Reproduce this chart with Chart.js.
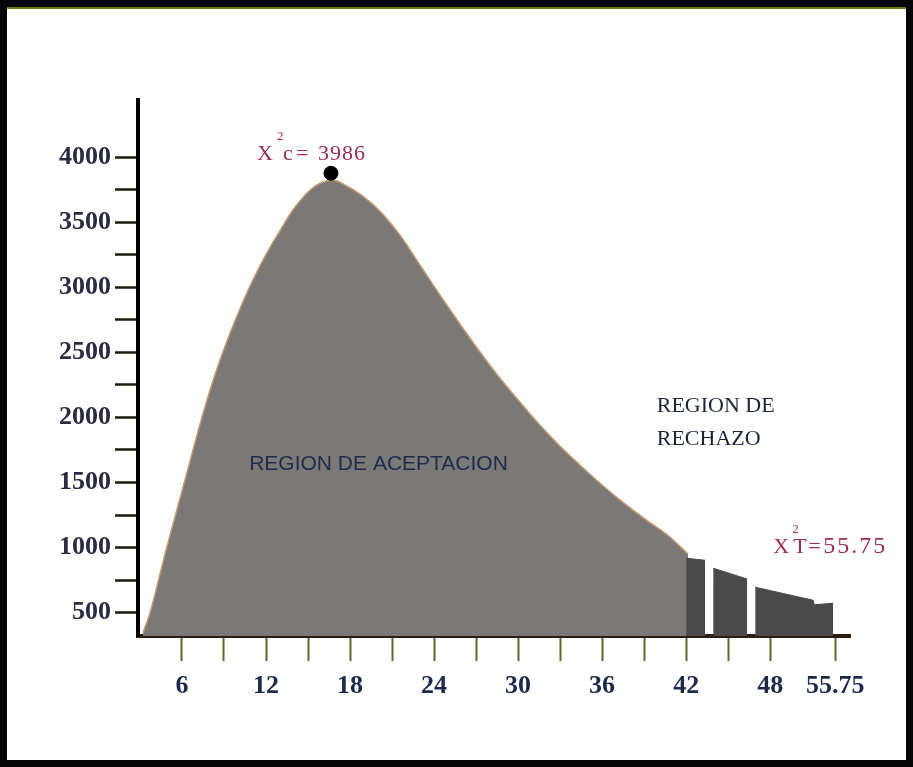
<!DOCTYPE html>
<html>
<head>
<meta charset="utf-8">
<script src="https://cdn.jsdelivr.net/npm/chart.js@4/dist/chart.umd.min.js"></script>
<style>
  html, body { margin: 0; padding: 0; background: #ffffff; }
  #wrap { width: 913px; height: 767px; position: relative; }
</style>
</head>
<body>
<div id="wrap"><canvas id="c" width="913" height="767"></canvas></div>
<script>
// ---- data ----
const acceptX = [3.21, 3.71, 4.86, 6.21, 7.29, 8.0, 8.71, 9.43, 10.14, 10.86, 11.57, 12.29, 13.0, 13.71, 14.43, 15.14, 15.86, 16.79, 17.79, 18.71, 20.14, 21.57, 23.0, 24.43, 25.86, 27.29, 28.71, 30.14, 31.57, 33.0, 34.43, 35.86, 37.29, 39.07, 40.86, 42.14];
const acceptY = [341, 495, 979, 1517, 1948, 2209, 2439, 2647, 2836, 3009, 3166, 3308, 3435, 3562, 3666, 3746, 3800, 3823, 3777, 3716, 3585, 3400, 3170, 2939, 2716, 2501, 2301, 2117, 1940, 1779, 1633, 1494, 1364, 1218, 1079, 949];

const rejectX = [42.0, 43.36, null, 43.93, 46.36, null, 46.93, 51.07, 51.15, 52.5];
const rejectY = [918, 902, null, 841, 758, null, 695, 595, 560, 572];

const peakX = [16.64];
const peakY = [3877];

const xTickValues = [6, 9, 12, 15, 18, 21, 24, 27, 30, 33, 36, 39, 42, 45, 48, 52.64];
const xTickLabels = ['6', '', '12', '', '18', '', '24', '', '30', '', '36', '', '42', '', '48', '55.75'];
const yTickValues = [500, 750, 1000, 1250, 1500, 1750, 2000, 2250, 2500, 2750, 3000, 3250, 3500, 3750, 4000];
const yTickLabels = ['500', '', '1000', '', '1500', '', '2000', '', '2500', '', '3000', '', '3500', '', '4000'];

const acceptLabel = 'REGION DE ACEPTACION';
const rejectLabel = ['REGION DE', 'RECHAZO'];
const chiCalc = '3986';
const chiTab = '55.75';

// ---- build datasets ----
const acceptData = acceptX.map((x, i) => ({ x: x, y: acceptY[i] }));
const rejectSegments = [];
let cur = [];
rejectX.forEach((x, i) => {
  if (x === null) { if (cur.length) rejectSegments.push(cur); cur = []; }
  else cur.push({ x: x, y: rejectY[i] });
});
if (cur.length) rejectSegments.push(cur);

const datasets = [
  {
    type: 'line', data: acceptData, fill: 'start',
    backgroundColor: '#7b7977', borderColor: '#c39a70', borderWidth: 1.5,
    pointRadius: 0, cubicInterpolationMode: 'monotone', order: 3
  }
];
rejectSegments.forEach(seg => datasets.push({
  type: 'line', data: seg, fill: 'start',
  backgroundColor: '#4a4a4a', borderColor: '#4a4a4a', borderWidth: 1,
  pointRadius: 0, tension: 0, order: 2
}));
datasets.push({
  type: 'scatter', data: peakX.map((x, i) => ({ x: x, y: peakY[i] })),
  backgroundColor: '#000', borderColor: '#000', pointRadius: 7, order: 1
});

const labelPlugin = {
  id: 'labels',
  afterDatasetsDraw(chart) {
    const ctx = chart.ctx, xs = chart.scales.x, ys = chart.scales.y;
    ctx.save();
    ctx.textAlign = 'left'; ctx.textBaseline = 'alphabetic';
    // acceptance region label
    ctx.fillStyle = '#1e2a48';
    ctx.font = '21px "Liberation Sans"';
    ctx.fillText(acceptLabel, xs.getPixelForValue(10.8), ys.getPixelForValue(1594), 260);
    // rejection region label
    ctx.fillStyle = '#1c2438';
    ctx.font = '22px "Liberation Serif"';
    ctx.fillText(rejectLabel[0], xs.getPixelForValue(39.9), ys.getPixelForValue(2040), 127);
    ctx.fillText(rejectLabel[1], xs.getPixelForValue(39.9), ys.getPixelForValue(1787), 111);
    // chi-square calculated label
    const px = xs.getPixelForValue(peakX[0]);
    const py = ys.getPixelForValue(peakY[0]);
    ctx.fillStyle = '#9b2d4f';
    let bx = px - 74, by = py - 13;
    ctx.font = '22px "Liberation Serif"';
    ctx.fillText('X', bx, by);
    ctx.font = '13px "Liberation Serif"';
    ctx.fillText('2', bx + 20, by - 20);
    ctx.font = '22px "Liberation Serif"';
    ctx.fillText('c', bx + 26, by);
    ctx.fillText('=', bx + 39, by);
    ctx.letterSpacing = '1px';
    ctx.fillText(chiCalc, bx + 61, by);
    ctx.letterSpacing = '0px';
    // chi-square tabulated label
    bx = xs.getPixelForValue(52.64) - 62; by = ys.getPixelForValue(1000) + 5;
    ctx.font = '22px "Liberation Serif"';
    ctx.fillText('X', bx, by);
    ctx.font = '13px "Liberation Serif"';
    ctx.fillText('2', bx + 19, by - 20);
    ctx.font = '22px "Liberation Serif"';
    ctx.fillText('T', bx + 20, by);
    ctx.fillText('=', bx + 35, by);
    ctx.font = '24px "Liberation Serif"';
    ctx.letterSpacing = '2px';
    ctx.fillText(chiTab, bx + 50, by);
    ctx.letterSpacing = '0px';
    ctx.restore();
  },
  afterDraw(chart) {
    const ctx = chart.ctx;
    ctx.save();
    ctx.strokeStyle = '#050505';
    ctx.lineWidth = 7;
    ctx.strokeRect(3.5, 3.5, 906, 760);
    ctx.strokeStyle = '#6b7a10';
    ctx.lineWidth = 2;
    ctx.beginPath(); ctx.moveTo(7, 8); ctx.lineTo(906, 8); ctx.stroke();
    ctx.restore();
  }
};

new Chart(document.getElementById('c'), {
  data: { datasets: datasets },
  options: {
    responsive: false, animation: false,
    layout: { padding: { top: 100, right: 63, left: 0, bottom: 0 } },
    plugins: { legend: { display: false }, tooltip: { enabled: false } },
    scales: {
      x: {
        type: 'linear', min: 2.86, max: 53.7,
        afterBuildTicks(scale) { scale.ticks = xTickValues.map(v => ({ value: v })); },
        afterFit(scale) { scale.height = 131; },
        ticks: {
          autoSkip: false, maxRotation: 0, padding: 10, color: '#1f2a4a',
          font: { family: '"Liberation Serif"', size: 26, weight: 'bold' },
          callback(v) { const i = xTickValues.indexOf(v); return i >= 0 ? xTickLabels[i] : ''; }
        },
        grid: { drawOnChartArea: false, drawTicks: true, tickLength: 25, tickColor: '#5a6a2a', tickWidth: 2 },
        border: { display: true, color: '#2b1d12', width: 4 }
      },
      y: {
        type: 'linear', min: 320, max: 4440,
        afterBuildTicks(scale) { scale.ticks = yTickValues.map(v => ({ value: v })); },
        afterFit(scale) { scale.width = 138; },
        ticks: {
          autoSkip: false, padding: 4, color: '#2a2a40',
          font: { family: '"Liberation Serif"', size: 26, weight: 'bold' },
          callback(v) { const i = yTickValues.indexOf(v); return i >= 0 ? yTickLabels[i] : ''; }
        },
        grid: { drawOnChartArea: false, drawTicks: true, tickLength: 23, tickColor: '#1a1a10', tickWidth: 2.5 },
        border: { display: true, color: '#000', width: 4 }
      }
    }
  },
  plugins: [labelPlugin]
});
</script>
</body>
</html>
